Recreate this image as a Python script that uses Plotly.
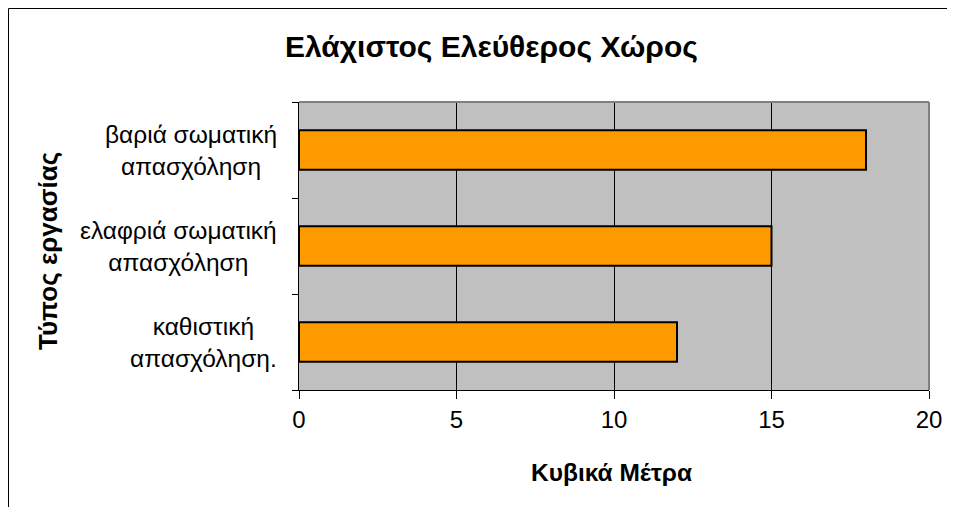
import plotly.graph_objects as go

categories = ["καθιστική<br>απασχόληση.", "ελαφριά σωματική<br>απασχόληση", "βαριά σωματική<br>απασχόληση"]
values = [12, 15, 18]
x_ticks = [0, 5, 10, 15, 20]
title = "Ελάχιστος Ελεύθερος Χώρος"
x_title = "Κυβικά Μέτρα"
y_title = "Τύπος εργασίας"

OFF = 8  # page body margin
W, H = 955, 507
L, T = 299 - OFF, 102 - OFF
pw, ph = 630, 288
R, B = W - L - pw, H - T - ph
FONT = "Liberation Sans, Arial, sans-serif"

def px(x):
    return (x - OFF - L) / pw

def py(y):
    return (T + ph + OFF - y) / ph

fig = go.Figure()
fig.add_trace(go.Bar(
    y=categories, x=values, orientation="h",
    marker=dict(color="#FF9900", line=dict(color="#000000", width=2)),
    width=0.41,
))

fig.update_layout(
    width=W, height=H,
    margin=dict(l=L, r=R, t=T, b=B),
    paper_bgcolor="white", plot_bgcolor="#C0C0C0",
    showlegend=False,
    font=dict(family=FONT, size=24, color="black"),
)
fig.update_xaxes(
    range=[0, 20], tickvals=x_ticks, ticktext=[str(v) for v in x_ticks],
    showgrid=True, gridcolor="black", gridwidth=1,
    showline=True, linecolor="black", linewidth=1,
    ticks="outside", ticklen=8, tickcolor="black",
    zeroline=False, tickfont=dict(size=24),
)
fig.update_yaxes(
    type="category", categoryorder="array", categoryarray=categories,
    showticklabels=False, showgrid=False,
    showline=True, linecolor="black", linewidth=1,
    ticks="outside", ticklen=6, tickcolor="black", tickson="boundaries",
    range=[-0.5, 2.5],
)

# category labels: block right-aligned, lines centered
for c in categories:
    fig.add_annotation(x=px(279), xref="paper", y=c, yref="y", text=c,
                       showarrow=False, align="center", xanchor="right", yanchor="middle",
                       font=dict(size=24.5, family=FONT))

fig.add_annotation(x=px(491), xref="paper", y=py(47), yref="paper", text="<b>" + title + "</b>",
                   showarrow=False, xanchor="center", yanchor="middle",
                   font=dict(size=30, family=FONT))
fig.add_annotation(x=px(611), xref="paper", y=py(472), yref="paper", text="<b>" + x_title + "</b>",
                   showarrow=False, xanchor="center", yanchor="middle",
                   font=dict(size=24.5, family=FONT))
fig.add_annotation(x=px(48), xref="paper", y=py(251), yref="paper", text="<b>" + y_title + "</b>",
                   showarrow=False, xanchor="center", yanchor="middle", textangle=-90,
                   font=dict(size=26, family=FONT))

# plot-area gray border on top and right
fig.add_shape(type="line", xref="paper", yref="paper", x0=0, x1=1, y0=1, y1=1,
              line=dict(color="#808080", width=2))
fig.add_shape(type="line", xref="paper", yref="paper", x0=1, x1=1, y0=0, y1=1,
              line=dict(color="#808080", width=2))
# outer chart border (top and left visible)
fig.add_shape(type="line", xref="paper", yref="paper", x0=px(8.5), x1=px(970), y0=py(8.5), y1=py(8.5),
              line=dict(color="black", width=1))
fig.add_shape(type="line", xref="paper", yref="paper", x0=px(8.5), x1=px(8.5), y0=py(8.5), y1=py(520),
              line=dict(color="black", width=1))

fig.write_html("out.html")
